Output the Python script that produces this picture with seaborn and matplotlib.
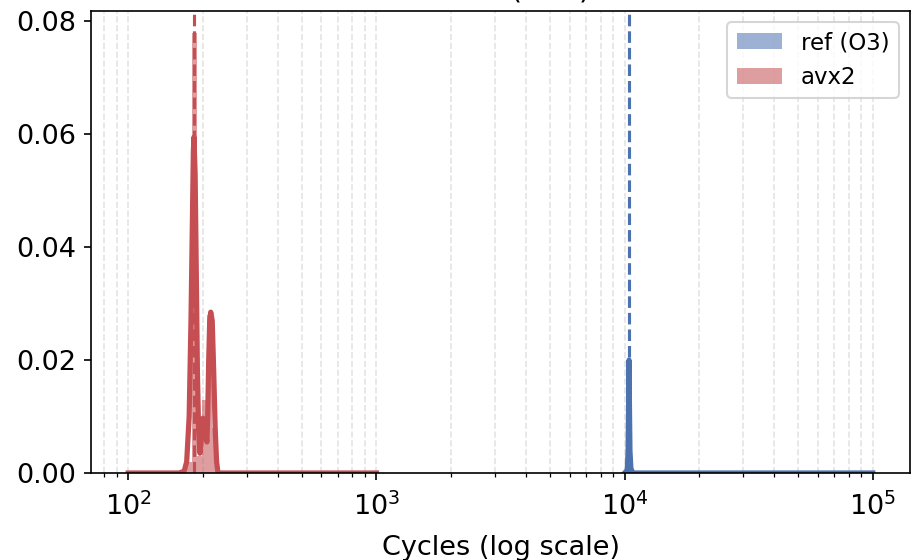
import matplotlib.pyplot as plt
import seaborn as sns

# histogram bins (cycles) and densities
ref_edges = [10330, 10390, 10450, 10510]
ref_hist = [0.003, 0.0195, 0.002]
avx2_edges = [172, 180.5, 189, 198, 207.5, 217.5, 227.5]
avx2_hist = [0.002, 0.078, 0.003, 0.013, 0.028, 0.008]

# smoothed density curves
ref_kde_x = [10000, 10250, 10330, 10380, 10420, 10460, 10510, 10600, 10800, 100000]
ref_kde_y = [0, 0.0005, 0.004, 0.012, 0.020, 0.012, 0.004, 0.0008, 0, 0]
avx2_kde_x = [100, 160, 168, 172, 176, 179, 181, 183, 184, 186, 188, 190, 192,
              194.5, 197, 200, 203, 207.5, 209, 211, 213, 215, 218, 221, 224,
              227, 230, 240, 1000]
avx2_kde_y = [0, 0, 0.0003, 0.002, 0.010, 0.027, 0.042, 0.057, 0.0595, 0.053,
              0.036, 0.018, 0.008, 0.0035, 0.006, 0.0097, 0.008, 0.0055, 0.010,
              0.020, 0.027, 0.0285, 0.027, 0.018, 0.008, 0.002, 0, 0, 0]

ref_median = 10420
avx2_median = 184

labels = ["ref (O3)", "avx2"]
colors = sns.color_palette("deep")
c_ref, c_avx = colors[0], colors[3]

fig = plt.figure(figsize=(911 / 150, 560 / 150), dpi=150)
ax = fig.add_axes([91 / 911, 87 / 560, 819 / 911, 462.3 / 560])
ax.set_xscale("log")

for edges, heights, col, lab in [(ref_edges, ref_hist, c_ref, labels[0]),
                                 (avx2_edges, avx2_hist, c_avx, labels[1])]:
    widths = [b - a for a, b in zip(edges[:-1], edges[1:])]
    ax.bar(edges[:-1], heights, width=widths, align="edge", color=col,
           alpha=0.55, linewidth=0, label=lab)

sns.lineplot(x=ref_kde_x, y=ref_kde_y, color=c_ref, lw=2.5, ax=ax, legend=False)
sns.lineplot(x=avx2_kde_x, y=avx2_kde_y, color=c_avx, lw=2.5, ax=ax, legend=False)

ax.axvline(ref_median, color=c_ref, ls="--", lw=1.5)
ax.axvline(avx2_median, color=c_avx, ls="--", lw=1.5)

ax.grid(True, which="both", axis="x", linestyle="--", alpha=0.35)
ax.set_axisbelow(True)
ax.set_yticks([0, 0.02, 0.04, 0.06, 0.08])
ax.tick_params(labelsize=13)
ax.tick_params(axis="x", which="major", pad=6)
ax.set_xlabel("Cycles (log scale)", fontsize=13, labelpad=6.5)
ax.set_ylabel("Density", fontsize=13, labelpad=9)
ax.set_title("Kernel (NTT)", fontsize=14)
ax.legend(loc="upper right", fontsize=11)

fig.savefig("out.png", dpi=150)
